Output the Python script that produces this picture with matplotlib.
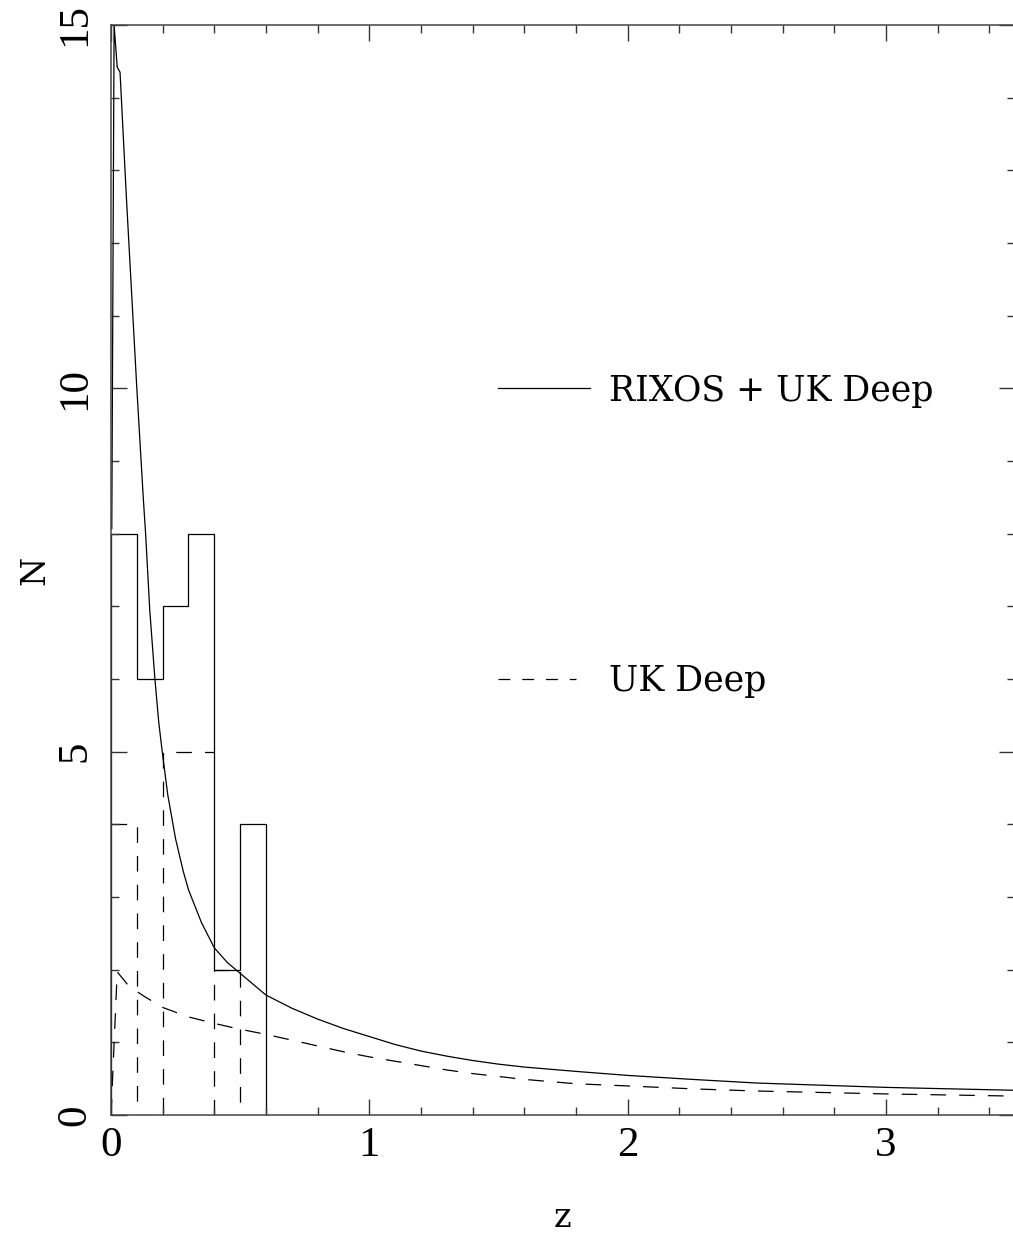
import matplotlib
matplotlib.use("Agg")
import matplotlib.pyplot as plt
from matplotlib.ticker import MultipleLocator, FixedLocator

# Redshift histograms (bin width 0.1)
bin_edges = [0.0, 0.1, 0.2, 0.3, 0.4, 0.5, 0.6]
counts_all = [8, 6, 7, 8, 2, 4]        # RIXOS + UK Deep
ukdeep_edges_a = [0.0, 0.1, 0.2, 0.3, 0.4]
ukdeep_counts_a = [4, 0, 5, 5]         # UK Deep, z < 0.4
ukdeep_edges_b = [0.4, 0.5]
ukdeep_counts_b = [2]                  # UK Deep, 0.4 < z < 0.5

# Model predictions N(z)
z_model_all = [0.003, 0.012, 0.024, 0.035, 0.06, 0.1, 0.125, 0.134, 0.15,
               0.17, 0.185, 0.2, 0.22, 0.25, 0.28, 0.3, 0.35, 0.4, 0.45, 0.5,
               0.55, 0.6, 0.7, 0.8, 0.9, 1.0, 1.1, 1.2, 1.3, 1.4, 1.5, 1.6,
               1.8, 2.0, 2.25, 2.5, 2.75, 3.0, 3.25, 3.5]
n_model_all = [8.07, 15.0, 14.42, 14.35, 12.6, 10.0, 8.49, 8.0, 6.95,
               6.0, 5.4, 4.95, 4.4, 3.8, 3.35, 3.1, 2.65, 2.3, 2.1, 1.95,
               1.8, 1.65, 1.47, 1.32, 1.19, 1.08, 0.97, 0.88, 0.81, 0.75, 0.70, 0.66,
               0.60, 0.545, 0.49, 0.44, 0.41, 0.38, 0.36, 0.34]

z_model_uk = [0.0, 0.024, 0.063, 0.1, 0.13, 0.2, 0.3, 0.4, 0.5, 0.6, 0.7,
              0.8, 0.9, 1.0, 1.1, 1.2, 1.3, 1.4, 1.5, 1.6, 1.7, 1.8, 2.0,
              2.25, 2.5, 2.75, 3.0, 3.25, 3.5]
n_model_uk = [0.0, 1.97, 1.80, 1.70, 1.63, 1.48, 1.35, 1.26, 1.18, 1.11, 1.03,
              0.95, 0.87, 0.80, 0.74, 0.68, 0.62, 0.57, 0.53, 0.49, 0.46, 0.43, 0.40,
              0.36, 0.33, 0.31, 0.29, 0.275, 0.26]

x_ticks = [0, 1, 2, 3]
y_ticks = [0, 5, 10, 15]
legend_labels = ["RIXOS + UK Deep", "UK Deep"]

W, H, DPI = 1013, 1233, 100
fig = plt.figure(figsize=(W / DPI, H / DPI), dpi=DPI)
ax = fig.add_axes([111 / W, 118 / H, (1015 - 111) / W, (1115 - 25) / H])

lw = 0.9
dash = (12.5, 10.5)
ink = "black"

ax.stairs(counts_all, bin_edges, baseline=0, color=ink, lw=lw)
# open-ended steps for the low-z part, closed bar for the 0.4-0.5 bin
ax.stairs(ukdeep_counts_a, ukdeep_edges_a, baseline=None, color=ink, lw=lw,
          linestyle=(0, dash))
ax.stairs(ukdeep_counts_b, ukdeep_edges_b, baseline=0, color=ink, lw=lw,
          linestyle=(0, dash))
ax.plot(z_model_all, n_model_all, color=ink, lw=lw)
ax.plot(z_model_uk, n_model_uk, color=ink, lw=lw, linestyle=(0, dash))

# Key
ax.plot([1.5, 1.855], [10, 10], color=ink, lw=lw)
ax.plot([1.5, 1.80], [6, 6], color=ink, lw=lw, linestyle=(0, (9.5, 9.5)))
txt_font = dict(family="DejaVu Serif", fontsize=25)
ax.text(1.93, 9.97, legend_labels[0], va="center", ha="left", **txt_font)
ax.text(1.93, 5.97, legend_labels[1], va="center", ha="left", **txt_font)

ax.set_xlim(0, 3.5)
ax.set_ylim(0, 15)

ax.xaxis.set_major_locator(FixedLocator(x_ticks))
ax.yaxis.set_major_locator(FixedLocator(y_ticks))
ax.xaxis.set_minor_locator(MultipleLocator(0.2))
ax.yaxis.set_minor_locator(MultipleLocator(1))
ax.tick_params(which="both", direction="in", top=True, right=True,
               color="#333333", width=1.0)
ax.tick_params(which="major", length=11.5)
ax.tick_params(which="minor", length=6)
ax.tick_params(axis="x", which="major", pad=8)
ax.tick_params(axis="y", which="major", pad=12)

tick_font = dict(family="Liberation Serif", size=31)
ax.set_xticklabels([str(v) for v in x_ticks], fontdict=tick_font)
ax.set_yticklabels([str(v) for v in y_ticks], fontdict=tick_font,
                   rotation=90, va="center", ha="right")

for sp in ax.spines.values():
    sp.set_linewidth(1.1)
    sp.set_color("#444444")

fig.text(562 / W, 1 - 1218 / H, "z", ha="center", va="center",
         family="DejaVu Serif", fontsize=24)
fig.text(35 / W, 1 - 570 / H, "N", ha="center", va="center", rotation=90,
         family="DejaVu Serif", fontsize=24)

fig.savefig("out.png", dpi=DPI)
